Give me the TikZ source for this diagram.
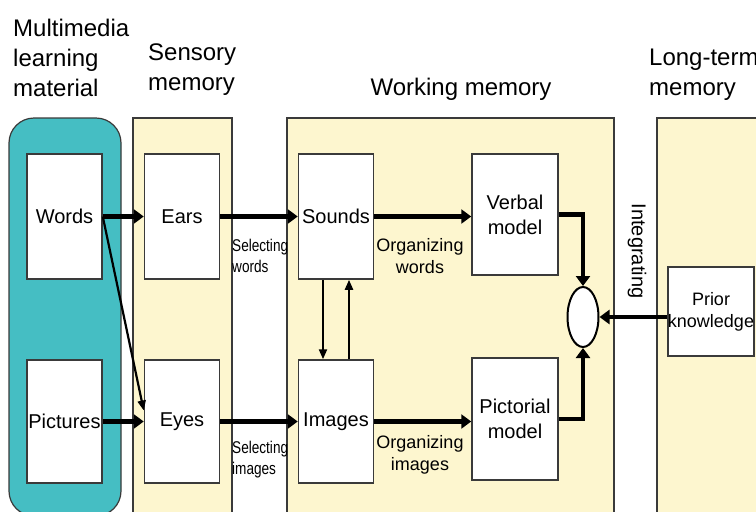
\documentclass[tikz,border=0pt]{standalone}
\usepackage{fontspec}
\setmainfont{Liberation Sans}
\newfontfamily\narrowfont[FakeStretch=0.8]{Liberation Sans}
\usetikzlibrary{arrows.meta,shapes.geometric}
\definecolor{panelyellow}{HTML}{FDF6CF}
\definecolor{mediateal}{HTML}{45BEC3}
\definecolor{edgegray}{HTML}{3A3A3A}

\begin{document}
\begin{tikzpicture}[x=1pt,y=-1pt,
  panel/.style={draw=edgegray, line width=1.2pt, fill=panelyellow},
  box/.style={draw=edgegray, line width=1.5pt, fill=white, inner sep=0pt, align=center,
    font=\fontsize{20}{25}\selectfont},
  title/.style={inner sep=0pt, align=left, font=\fontsize{24}{30}\selectfont},
  steplabel/.style={inner sep=0pt, align=center, font=\fontsize{18}{22}\selectfont},
  narrowlabel/.style={inner sep=0pt, align=left, font=\narrowfont\fontsize{17}{21}\selectfont},
  bigarrow/.style={line width=4.2pt, -{Triangle[length=10pt,width=14pt]}},
  thinarrow/.style={line width=2.2pt, -{Triangle[length=10pt,width=8pt]}}]
\useasboundingbox (0,0) rectangle (756,512);

% the four stores
\draw[edgegray, line width=1.2pt, fill=mediateal, rounded corners=25pt] (9,118) rectangle (121,516);
\foreach \l/\r in {133/232, 287/614, 657/790} \draw[panel] (\l,118) rectangle (\r,540);

% headings
\node[title, anchor=west] (mediatitle) at (13,58) {Multimedia\\learning\\material};
\node[title, anchor=west] (sensorytitle) at (148,70) {Sensory\\memory};
\node[title] (workingtitle) at (461,89) {Working memory};
\node[title, anchor=west] (longtitle) at (649,75) {Long-term\\memory};

% boxes
\foreach \name/\x/\txt in {words/64.5/Words, ears/182/Ears, sounds/336/Sounds}
  \node[box, minimum width=75, minimum height=125] (\name) at (\x,216.5) {\txt};
\foreach \name/\x/\txt in {pictures/64.5/Pictures, eyes/182/Eyes, images/336/Images}
  \node[box, minimum width=75, minimum height=123] (\name) at (\x,421.5) {\txt};
\node[box, minimum width=86, minimum height=121] (verbal) at (515,214.5) {Verbal\\model};
\node[box, minimum width=86, minimum height=122] (pictorial) at (515,419) {Pictorial\\model};
\node[box, minimum width=86, minimum height=89, font=\fontsize{18}{22}\selectfont] (prior) at (711,311.5) {Prior\\knowledge};
\node[draw, line width=2pt, fill=white, ellipse, inner sep=0pt, minimum width=31, minimum height=60] (merge) at (583,317) {};

% process labels
\node[narrowlabel, anchor=west] (selwords) at (232,256) {Selecting\\words};
\node[narrowlabel, anchor=west] (selimages) at (232,460) {Selecting\\images};
\node[steplabel] (orgwords) at (420,256) {Organizing\\words};
\node[steplabel] (orgimages) at (420,455) {Organizing\\images};
\node[inner sep=0pt, rotate=-90, font=\fontsize{20}{24}\selectfont] (integrating) at (637,251) {Integrating};

% arrows
\foreach \a/\b in {words/ears, ears/sounds, pictures/eyes, eyes/images}
  \draw[bigarrow] (\a) -- (\b);
\draw[bigarrow] (sounds.east) -- (sounds.east -| verbal.west);
\draw[bigarrow] (images.east) -- (images.east -| pictorial.west);
\draw[thinarrow] (words.east) -- ([yshift=11pt]eyes.west);
\draw[thinarrow] ([xshift=-13pt]sounds.south) -- ([xshift=-13pt]images.north);
\draw[thinarrow] ([xshift=13pt]images.north) -- ([xshift=13pt]sounds.south);
\draw[bigarrow] (verbal.east) -| (merge.north);
\draw[bigarrow] (pictorial.east) -| (merge.south);
\draw[bigarrow] (prior.west |- merge.east) -- (merge.east);
\end{tikzpicture}
\end{document}
